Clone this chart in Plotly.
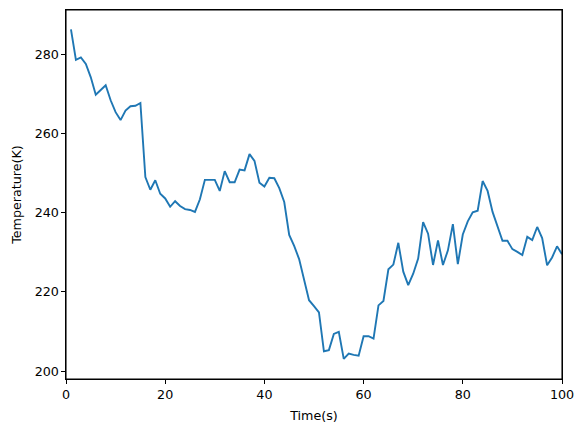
import plotly.graph_objects as go

# time samples (s) and measured temperature (K)
time_s = list(range(1, 101))
temp_k = [
    286.3, 278.6, 279.2, 277.6, 274.2, 269.8, 271.0, 272.2, 268.4, 265.4,
    263.4, 265.8, 266.9, 267.0, 267.7, 249.0, 245.8, 248.2, 244.8, 243.6,
    241.5, 242.9, 241.7, 240.9, 240.7, 240.2, 243.4, 248.3, 248.3, 248.3,
    245.5, 250.5, 247.7, 247.7, 250.9, 250.7, 254.8, 253.1, 247.6, 246.6,
    248.8, 248.7, 246.2, 242.7, 234.4, 231.6, 228.3, 223.0, 217.9, 216.4,
    214.8, 205.0, 205.3, 209.4, 209.9, 203.1, 204.4, 204.1, 203.9, 208.8,
    208.8, 208.2, 216.6, 217.7, 225.7, 226.9, 232.4, 225.1, 221.7, 224.6,
    228.4, 237.6, 234.7, 226.8, 233.0, 226.8, 230.5, 237.1, 227.0, 234.5,
    237.8, 240.1, 240.5, 248.0, 245.5, 240.2, 236.4, 232.9, 232.9, 230.8,
    230.1, 229.3, 233.9, 233.1, 236.4, 233.6, 226.7, 228.7, 231.5, 229.5,
]

x_ticks = [0, 20, 40, 60, 80, 100]
y_ticks = [200, 220, 240, 260, 280]

FONT = "DejaVu Sans"

fig = go.Figure(go.Scatter(x=time_s, y=temp_k, mode="lines",
                           line=dict(color="#1f77b4", width=1.9)))

axis_style = dict(showline=True, linecolor="black", linewidth=1.1, mirror=True,
                  ticks="outside", ticklen=3.5, tickwidth=1, tickcolor="black",
                  showgrid=False, zeroline=False, automargin=False,
                  tickfont=dict(family=FONT, size=12.7, color="black"))

fig.update_xaxes(range=[0, 100], tickvals=x_ticks,
                 title=dict(text="Time(s)", font=dict(family=FONT, size=12.7, color="black"),
                            standoff=10),
                 **axis_style)
fig.update_yaxes(range=[198.0, 291.2], tickvals=y_ticks,
                 title=dict(text="Temperature(K)", font=dict(family=FONT, size=12.7, color="black"),
                            standoff=10),
                 **axis_style)

# axes frame (the spines), drawn as a shape so it always shows
fig.add_shape(type="rect", xref="paper", yref="paper", x0=0, x1=1, y0=0, y1=1,
              line=dict(color="black", width=1.1), layer="above")

fig.update_layout(width=584, height=432, showlegend=False,
                  margin=dict(l=66, r=22, t=10, b=53),
                  plot_bgcolor="white", paper_bgcolor="white")

# page body has a default 8px margin; drop it so the figure sits at 0,0
fig.write_html("out.html", config={"displayModeBar": False},
               post_script="document.body.style.margin='0';")
